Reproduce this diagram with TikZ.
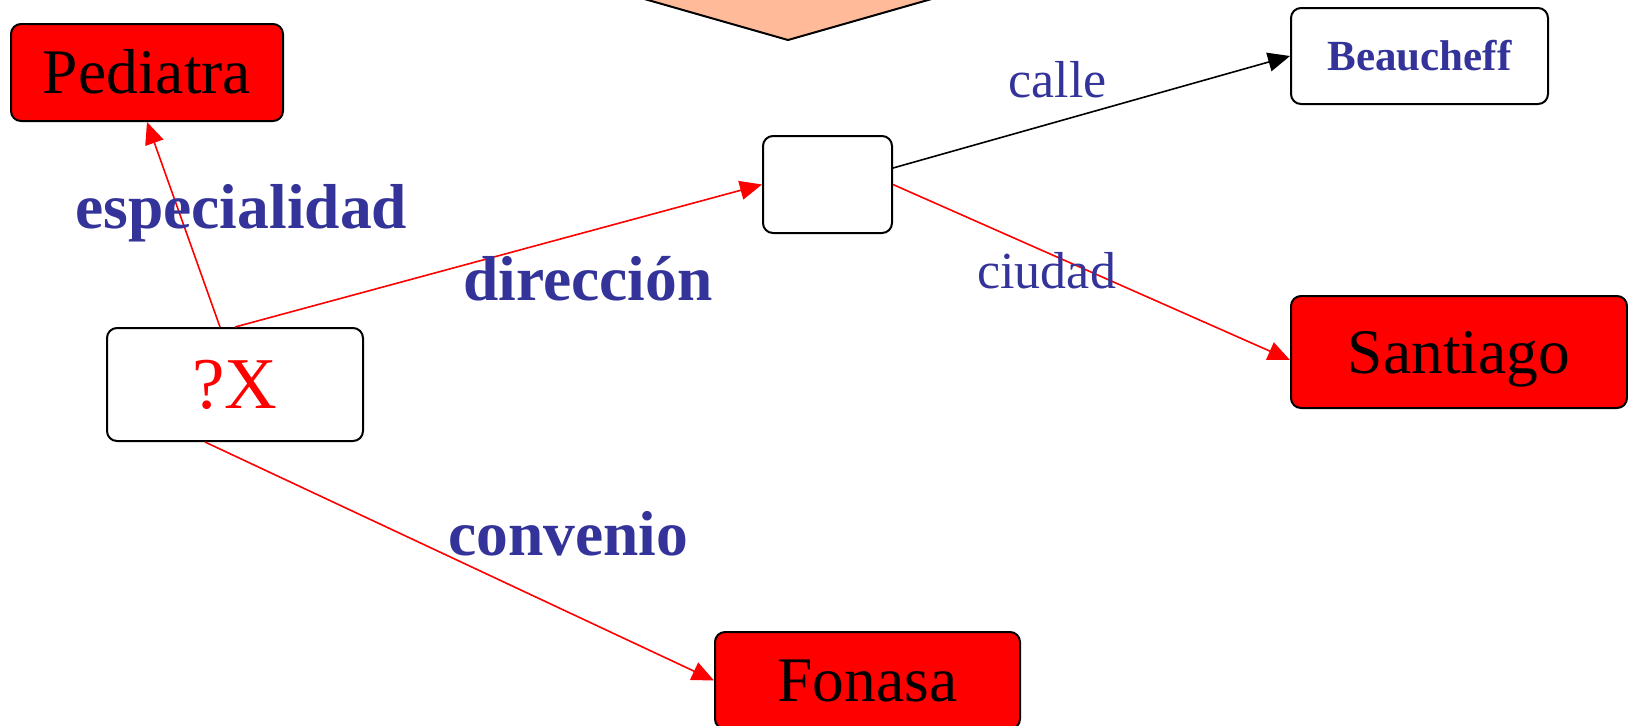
\documentclass[tikz,border=0pt]{standalone}
\usepackage{fontspec}
\setmainfont{Liberation Serif}
\usetikzlibrary{arrows.meta}
\definecolor{lblue}{RGB}{51,51,153}
\definecolor{peach}{RGB}{255,187,153}
\tikzset{
  box/.style={draw=black, line width=1pt, rounded corners=5pt, inner sep=0pt,
    text height=21pt, text depth=0pt, align=center},
  redbox/.style={box, fill=red, text=black, font=\fontsize{31.75}{36}\selectfont},
  lblbold/.style={anchor=base west, inner sep=0pt, text=lblue, font=\fontsize{31.75}{36}\selectfont\bfseries},
  lblnorm/.style={anchor=base west, inner sep=0pt, text=lblue, font=\fontsize{26}{30}\selectfont},
  redarrow/.style={draw=red, line width=0.8pt, -{Triangle[length=11pt,width=9.5pt]}},
  blackarrow/.style={draw=black, line width=0.8pt, -{Triangle[length=11pt,width=9.5pt]}}
}
\begin{document}
\begin{tikzpicture}[x=0.5pt, y=-0.5pt]
\useasboundingbox (0,0) rectangle (1628,725);
\begin{scope}
  \clip (0,0) rectangle (1628,725);
  \draw[fill=peach, line width=1pt] (788,40) -- (1138,-60) -- (788,-160) -- (438,-60) -- cycle;
  \node[redbox, minimum width=152.5pt, minimum height=48.5pt] (fonasa) at (867.5,680.5) {Fonasa};
\end{scope}
\node[redbox, minimum width=136pt, minimum height=48.5pt] (pediatra) at (147,72.5) {Pediatra};
\node[box, fill=white, text=red, text height=24.2pt, minimum width=128pt, minimum height=56.5pt, font=\fontsize{36.5}{40}\selectfont] (qx) at (235,384.5) {?X};
\node[box, fill=white, minimum width=64.5pt, minimum height=48.5pt] (empty) at (827.5,184.5) {};
\node[box, fill=white, text=lblue, text height=14.2pt, minimum width=128.5pt, minimum height=48pt, font=\fontsize{21.5}{24}\selectfont\bfseries] (beaucheff) at (1419.5,56) {Beaucheff};
\node[redbox, minimum width=168pt, minimum height=56pt] (santiago) at (1459,352) {Santiago};

\path[redarrow] ([xshift=-7.5pt]qx.north) -- (pediatra.south);
\path[redarrow] (qx.north) -- (empty.west);
\path[redarrow] ([xshift=-15pt]qx.south) -- (fonasa.west);
\path[blackarrow] ([yshift=8.25pt]empty.east) -- (beaucheff.west);
\path[redarrow] (empty.east) -- ([yshift=-4pt]santiago.west);

\node[lblbold] (lesp) at (75,228) {especialidad};
\node[lblbold] (ldir) at (463,300) {dirección};
\node[lblbold] (lconv) at (448,555) {convenio};
\node[lblnorm] (lcalle) at (1008,97) {calle};
\node[lblnorm] (lciudad) at (977,288) {ciudad};
\end{tikzpicture}
\end{document}
